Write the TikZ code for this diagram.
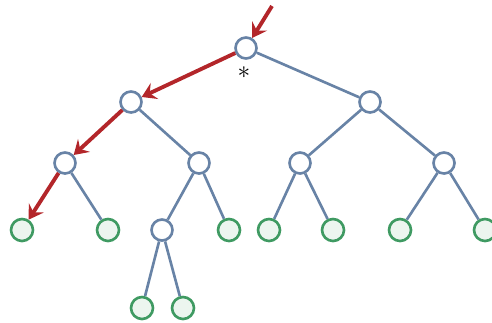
\documentclass[tikz,border=0pt]{standalone}
\usepackage{tikz}
\usetikzlibrary{arrows.meta}
\definecolor{edgeblue}{HTML}{6883A6}
\definecolor{leafgreen}{HTML}{3F9A62}
\definecolor{pathred}{HTML}{B3262A}

\begin{document}
\begin{tikzpicture}[
  x=0.02cm, y=-0.02cm,
  inner/.style={circle, draw=edgeblue, fill=white, line width=1.5pt, minimum size=0.42cm, inner sep=0pt},
  leaf/.style={circle, draw=leafgreen, fill=leafgreen!10, line width=1.5pt, minimum size=0.44cm, inner sep=0pt},
  edge/.style={draw=edgeblue, line width=1.5pt},
  hot/.style={draw=pathred, line width=2.2pt, -{Stealth[length=8pt, width=10pt, inset=3pt]}},
  >=Stealth
]
  \useasboundingbox (0,0) rectangle (492,322);

  % inner nodes
  \node[inner] (r)   at (246, 48)  {};
  \node[inner] (l)   at (131, 102) {};
  \node[inner] (rt)  at (370, 102) {};
  \node[inner] (ll)  at (65, 163)  {};
  \node[inner] (lr)  at (199, 163) {};
  \node[inner] (rl)  at (300, 163) {};
  \node[inner] (rr)  at (444, 163) {};
  \node[inner] (lrl) at (162, 230) {};

  % leaves
  \node[leaf] (a) at (22, 230)  {};
  \node[leaf] (b) at (108, 230) {};
  \node[leaf] (c) at (229, 230) {};
  \node[leaf] (d) at (269, 230) {};
  \node[leaf] (e) at (333, 230) {};
  \node[leaf] (f) at (400, 230) {};
  \node[leaf] (g) at (485, 230) {};
  \node[leaf] (h) at (142, 308) {};
  \node[leaf] (i) at (183, 308) {};

  \coordinate (top) at (272, 6);
  \node[font=\Large] (star) at (244, 73) {$\ast$};

  % plain edges
  \draw[edge] (r) -- (rt);
  \draw[edge] (l) -- (lr);
  \draw[edge] (ll) -- (b);
  \draw[edge] (lr) -- (lrl);
  \draw[edge] (lr) -- (c);
  \draw[edge] (lrl) -- (h);
  \draw[edge] (lrl) -- (i);
  \draw[edge] (rt) -- (rl);
  \draw[edge] (rt) -- (rr);
  \draw[edge] (rl) -- (d);
  \draw[edge] (rl) -- (e);
  \draw[edge] (rr) -- (f);
  \draw[edge] (rr) -- (g);

  % search path
  \draw[hot] (top) -- (r);
  \draw[hot] (r) -- (l);
  \draw[hot] (l) -- (ll);
  \draw[hot] (ll) -- (a);
\end{tikzpicture}
\end{document}
